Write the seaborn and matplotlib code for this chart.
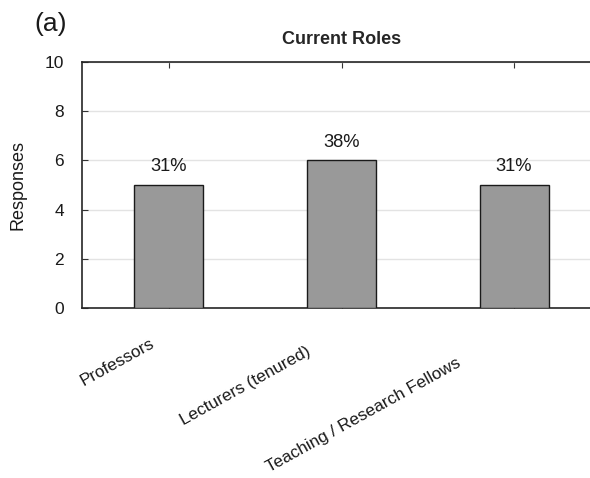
import matplotlib
matplotlib.use("Agg")
import matplotlib.pyplot as plt
import matplotlib.transforms as mtransforms
import pandas as pd
import seaborn as sns

roles = ["Professors", "Lecturers (tenured)", "Teaching / Research Fellows"]
responses = [5, 6, 5]
y_ticks = [0, 2, 4, 6, 8, 10]

# shift of each rotated tick label's top-right corner from its tick, in pixels
label_shift = [(-19, -28), (-36, -36), (-58, -47)]

sns.set_theme(style="white")
plt.rcParams["font.family"] = ["Liberation Sans", "DejaVu Sans"]

df = pd.DataFrame({"role": roles, "responses": responses})
total = sum(responses)
df["pct"] = [round(100 * r / total) for r in responses]

fig = plt.figure(figsize=(5.9, 4.78), dpi=100)
ax = fig.add_axes([82 / 590, 170 / 478, 519 / 590, 246 / 478])

sns.barplot(data=df, x="role", y="responses", color="#999999", width=0.4,
            edgecolor="#1a1a1a", linewidth=1.0, saturation=1, ax=ax, zorder=3)

ax.set_xlim(-0.504, 2.504)
ax.set_ylim(0, 10)
ax.set_yticks(y_ticks)
ax.set_yticklabels([str(t) for t in y_ticks], fontsize=12.5, color="#1a1a1a")
ax.yaxis.grid(True, color="#e3e3e3", linewidth=1.0, zorder=0)
ax.set_axisbelow(True)

ax.tick_params(axis="x", direction="in", top=True, bottom=True, length=4,
               width=0.8, color="#333333", labelbottom=False)
ax.tick_params(axis="y", direction="in", left=True, right=True, length=4,
               width=0.8, color="#333333", pad=13)
for side in ["top", "bottom", "left", "right"]:
    ax.spines[side].set_color("#262626")
    ax.spines[side].set_linewidth(1.2)

# rotated category labels under the axis
for i, name in enumerate(roles):
    dx, dy = label_shift[i]
    tr = mtransforms.blended_transform_factory(ax.transData, ax.transAxes) + \
        mtransforms.ScaledTranslation(dx / 100, dy / 100, fig.dpi_scale_trans)
    ax.text(i, 0, name, transform=tr, rotation=29, rotation_mode="anchor",
            ha="right", va="top", fontsize=12.3, color="#1a1a1a")

for i, (v, p) in enumerate(zip(df["responses"], df["pct"])):
    ax.annotate(f"{p}%", xy=(i, v), xytext=(0, 7), textcoords="offset points",
                ha="center", va="bottom", fontsize=13.2, color="#1a1a1a")

ax.set_xlabel("")
ax.set_ylabel("Responses", fontsize=13, color="#1a1a1a", labelpad=13)
ax.set_title("Current Roles", fontsize=13, fontweight="bold", pad=13)
fig.text(0.058, 0.95, "(a)", fontsize=19, color="#1a1a1a", ha="left", va="center")

fig.savefig("out.png", dpi=100)
